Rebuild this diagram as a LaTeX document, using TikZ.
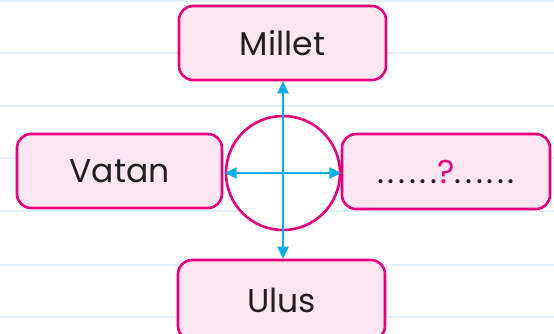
\documentclass[tikz,border=0pt]{standalone}
\usepackage{fontspec}
\setmainfont{Poppins}
\usetikzlibrary{arrows.meta}
\definecolor{pinkline}{HTML}{E6007E}
\definecolor{pinkfill}{HTML}{FCE6F0}
\definecolor{rule}{HTML}{E3F2FA}
\definecolor{arrowc}{HTML}{0AAEEB}
\definecolor{txt}{HTML}{231F20}
\newcommand\mydt{\makebox[10.6pt]{.}}
\tikzset{
  wordbox/.style={draw=pinkline, fill=pinkfill, line width=2.6pt, rounded corners=14pt,
    minimum width=205pt, minimum height=75pt, inner sep=0pt, text=txt,
    font=\fontsize{33}{33}\selectfont},
  hub/.style={circle, draw=pinkline, fill=white, line width=2.6pt, minimum size=114pt, inner sep=0pt},
  link/.style={draw=arrowc, line width=2.2pt, {Triangle[length=12pt,width=11pt]}-{Triangle[length=12pt,width=11pt]}},
  rulel/.style={draw=rule, line width=2.5pt}
}
\begin{document}
\begin{tikzpicture}[x=1pt,y=-1pt]
\useasboundingbox (0,0) rectangle (554,333);
\clip (0,0) rectangle (554,333);
\fill[white] (0,0) rectangle (554,333);
\foreach \yy in {1,53,106,158,211,265,317} {\draw[rulel] (0,\yy) -- (554,\yy);}
\node[wordbox, minimum width=207pt, minimum height=74pt] (millet) at (282.5,43) {Millet};
\node[wordbox, minimum width=205pt, minimum height=74pt] (vatan) at (119.5,171) {Vatan};
\node[wordbox, minimum width=208pt, minimum height=75pt] (soru) at (446,171.5) {\mydt\mydt\mydt\mydt\mydt\mydt\makebox[14pt]{\textcolor{pinkline}{?}}\mydt\mydt\mydt\mydt\mydt\mydt};
\node[wordbox, minimum width=207pt, minimum height=80pt] (ulus) at (281.5,300) {Ulus};
\node[hub] (c) at (283,173) {};
\draw[link] (ulus.north -| c) -- (millet.south -| c);
\draw[link] (c.west) -- (c.east);
\end{tikzpicture}
\end{document}
